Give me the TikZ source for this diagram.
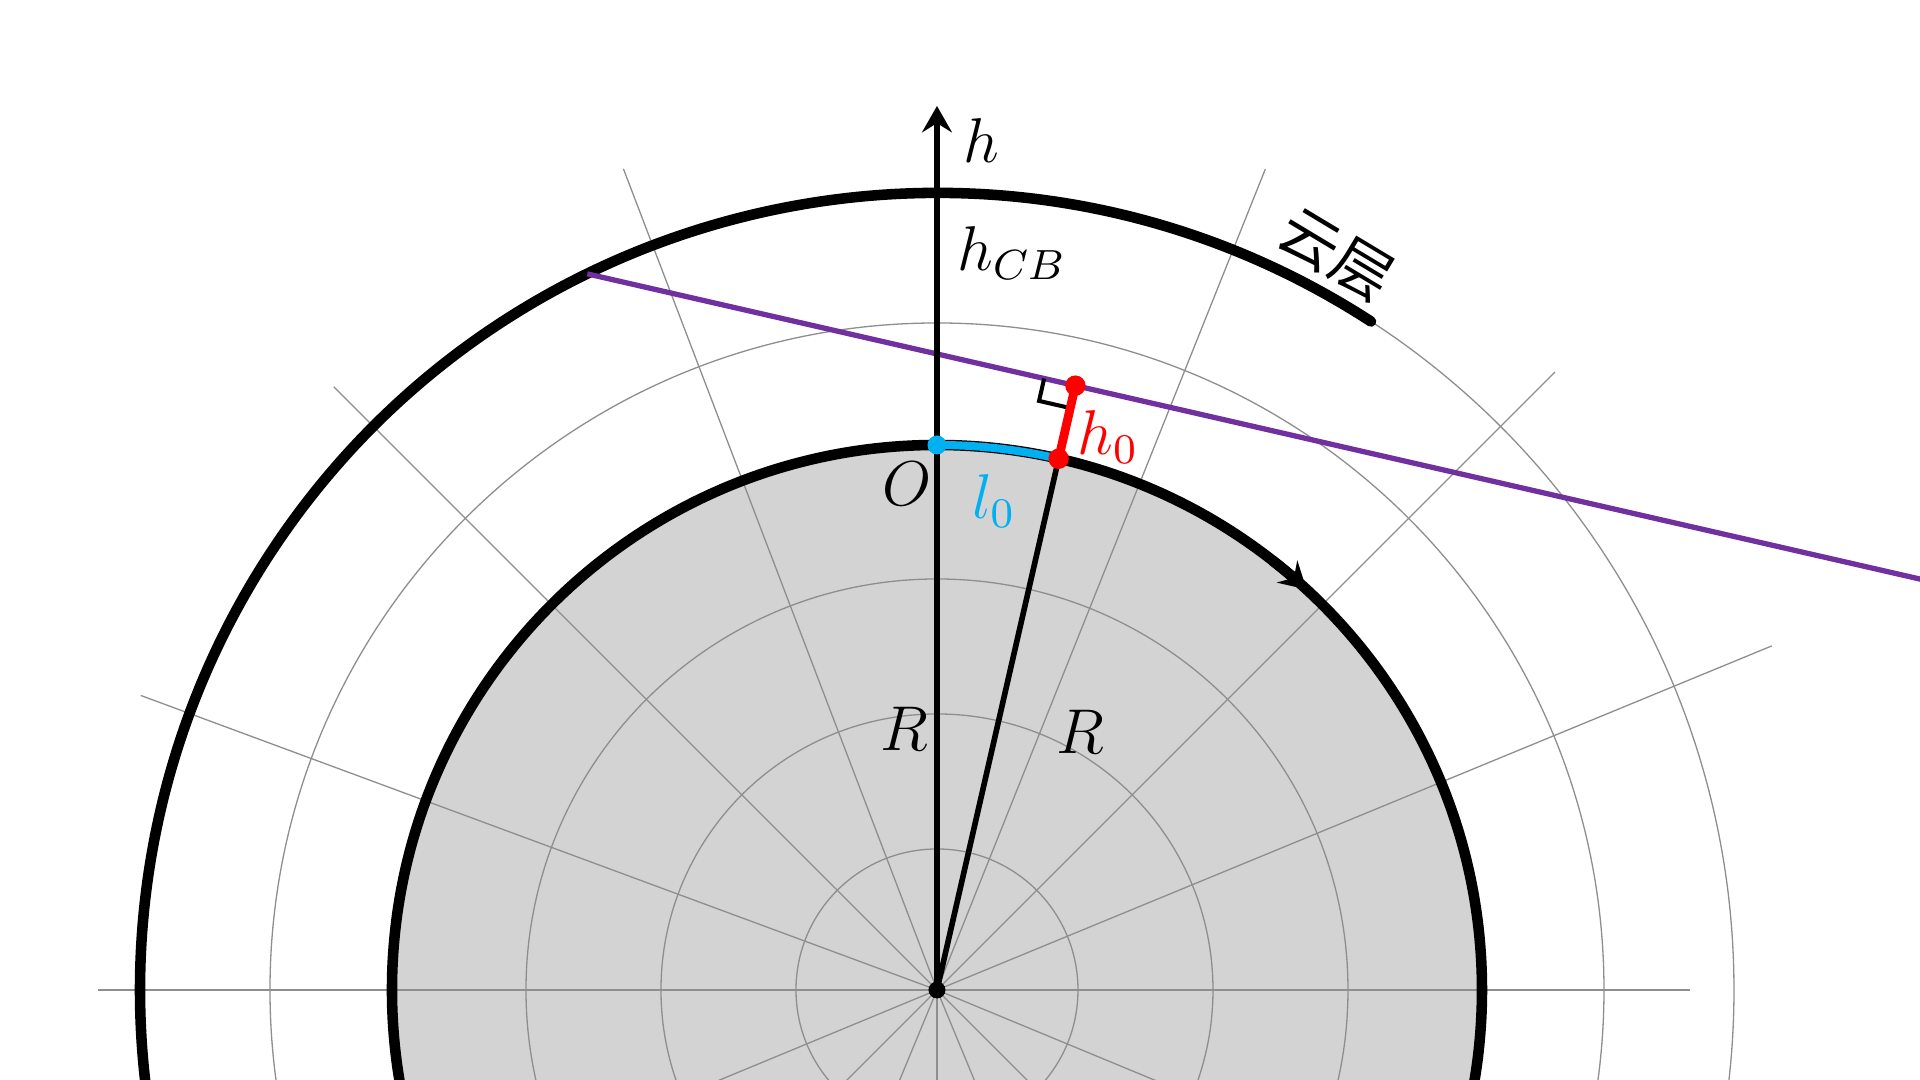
\documentclass[tikz,border=0pt]{standalone}
\usepackage{fontspec}
\newfontfamily\cjk{Noto Sans CJK SC}
\usetikzlibrary{arrows.meta,calc}
\definecolor{purp}{HTML}{7030A0}
\definecolor{sky}{HTML}{00B0F0}
\definecolor{redc}{HTML}{FF0000}
\definecolor{fillg}{HTML}{D3D3D3}
\definecolor{gridc}{HTML}{8E8E8E}
\begin{document}
\begin{tikzpicture}[x=0.01cm,y=0.01cm,
  gridline/.style={draw=gridc,line width=0.37pt},
  bold/.style={line width=3pt},
  lbl/.style={font=\fontsize{12}{14}\selectfont, scale=1.5, inner sep=0pt},
  arrowtip/.style={-{Stealth[length=7.5pt,width=8.5pt,inset=2.6pt]}}]
\useasboundingbox (-937,-90) rectangle (983,990);
\clip (-937,-90) rectangle (983,990);
% earth disc
\fill[fillg] (0,0) circle[radius=545];
% polar grid
\foreach \r in {141,276,411,545,667,797}
  \draw[gridline] (0,0) circle[radius=\r];
\foreach \a/\l in {0/753,22.4/903,45/874,68.2/884,90/880,110.9/879,135/853,159.7/849,180/839,
                   202.5/950,225/950,247.5/950,270/950,292.5/950,315/950,337.5/950}
  \draw[gridline] (0,0) -- (\a:\l);
% key points
\coordinate (C) at (0,0);
\coordinate (O) at (90:545);
\coordinate (A) at (77.1:545);
\coordinate (P) at (77.1:620);
\coordinate (H) at (90:884);
\coordinate (L) at ($(P)+(167.1:500.8)$);
\coordinate (E) at ($(P)+(-12.9:900)$);
% thick circles
\draw[bold] (C) circle[radius=545];
\draw[bold,line cap=round] (57:797) arc[start angle=57,end angle=200,radius=797];
\draw[bold,arrowtip] (52:545) arc[start angle=52,end angle=47.3,radius=545];
% line of sight
\draw[purp,line width=1.5pt] (L) -- (E);
% right angle mark
\draw[line width=1.15pt] ($(P)+(167.1:32)$) -- ($(P)+(167.1:32)+(257.1:23)$) -- ($(P)+(257.1:23)$);
% axis and radii
\draw[line width=1.7pt,arrowtip] (C) -- (H);
\draw[line width=1.6pt] (C) -- (A);
% arc l0 and height h0
\draw[sky,line width=2.3pt] (O) arc[start angle=90,end angle=77.1,radius=545];
\draw[redc,line width=2.5pt] (A) -- (P);
% dots
\fill[sky] (O) circle[radius=9.5];
\fill[redc] (A) circle[radius=10.2];
\fill[redc] (P) circle[radius=10.2];
\fill (C) circle[radius=8.5];
% labels
\node[lbl] (lh) at (44,849) {$h$};
\node[lbl] (lhcb) at (75,737) {$h_{CB}$};
\node[lbl] (lO) at (-30,506) {$O$};
\node[lbl,text=sky] (ll) at (57,489) {$l_0$};
\node[lbl,text=redc] (lhz) at (171,553) {$h_0$};
\node[lbl] (lRa) at (-33,261) {$R$};
\node[lbl] (lRb) at (143,258) {$R$};
\node[font=\cjk\fontsize{17}{20}\selectfont,rotate=-31,inner sep=0pt] (cloud) at (399,735) {云层};
\end{tikzpicture}
\end{document}
